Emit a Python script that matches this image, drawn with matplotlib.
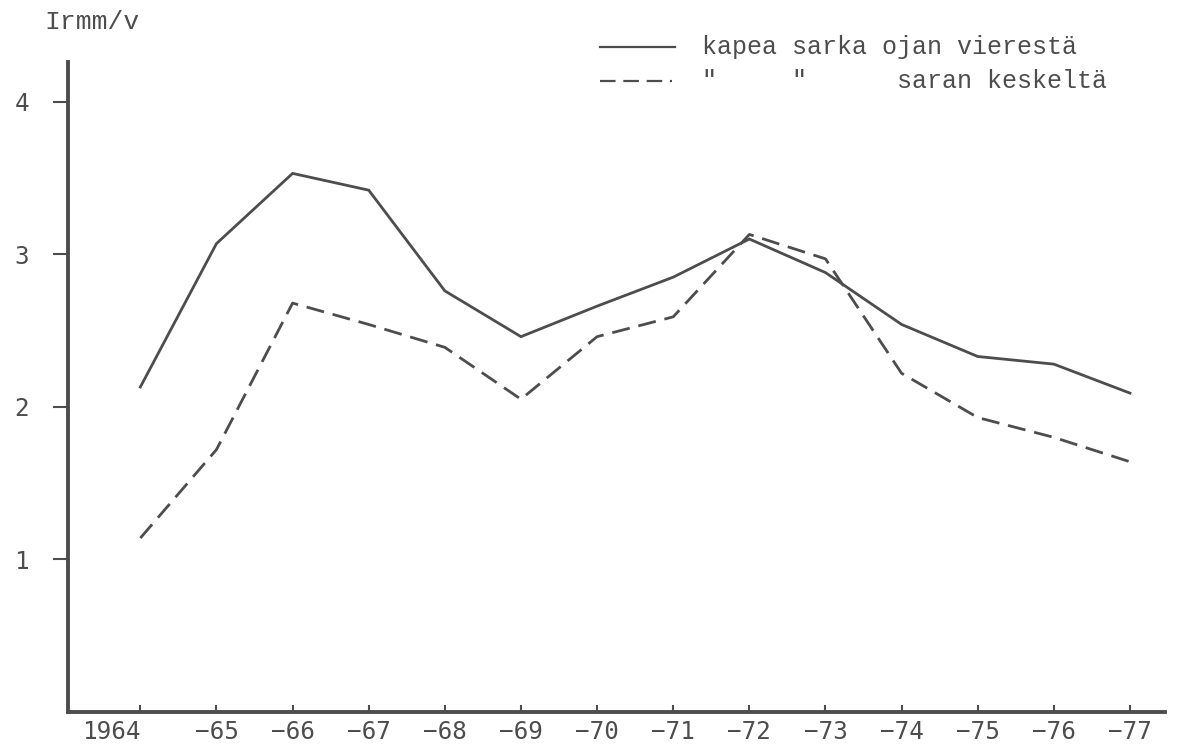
import matplotlib
matplotlib.use("Agg")
import matplotlib.pyplot as plt
from matplotlib.lines import Line2D

# vuodet ja arvot (Ir mm/v)
vuodet = [1964, 1965, 1966, 1967, 1968, 1969, 1970, 1971, 1972, 1973, 1974, 1975, 1976, 1977]
ojan_vieresta = [2.13, 3.07, 3.53, 3.42, 2.76, 2.46, 2.66, 2.85, 3.10, 2.88, 2.54, 2.33, 2.28, 2.09]
saran_keskelta = [1.14, 1.72, 2.68, 2.54, 2.39, 2.05, 2.46, 2.59, 3.13, 2.97, 2.22, 1.93, 1.80, 1.64]
x_labels = ["1964", "−65", "−66", "−67", "−68", "−69", "−70", "−71", "−72", "−73",
            "−74", "−75", "−76", "−77"]
y_ticks = [1, 2, 3, 4]

ink = "#4d4d4d"
mono = ["DejaVu Sans Mono"]
typewriter = ["Liberation Mono", "DejaVu Sans Mono"]

fig = plt.figure(figsize=(11.77, 7.48), dpi=100)
ax = fig.add_axes([0.0578, 0.0481, 0.932, 0.869])

ax.plot(vuodet, ojan_vieresta, color=ink, lw=2.0, solid_joinstyle="miter")
ax.plot(vuodet, saran_keskelta, color=ink, lw=2.0, linestyle=(0, (6.5, 3.2)))

ax.set_xlim(1963.05, 1977.46)
ax.set_ylim(0, 4.26)

for s in ["top", "right"]:
    ax.spines[s].set_visible(False)
for s in ["left", "bottom"]:
    ax.spines[s].set_linewidth(2.8)
    ax.spines[s].set_color(ink)

ax.set_xticks(vuodet)
ax.set_xticklabels(x_labels, family=mono, fontsize=17.5, color=ink)
ax.get_xticklabels()[0].set_ha("right")
ax.get_xticklabels()[0].set_x(vuodet[0] + 0.02)
ax.tick_params(axis="x", direction="in", length=5, width=1.5, color=ink, pad=6)

ax.set_yticks(y_ticks)
ax.set_yticklabels([str(v) for v in y_ticks], family=mono, fontsize=17.5, color=ink)
ax.tick_params(axis="y", direction="out", length=11, width=1.5, color=ink, pad=17)

# akselin nimi
fig.text(44 / 1177, 1 - 22 / 748, "Irmm/v", family=typewriter, fontsize=19,
         color=ink, va="center", ha="left")

# selite käsin kuten alkuperäisessä
fig.add_artist(Line2D([600 / 1177, 675 / 1177], [1 - 47 / 748, 1 - 47 / 748],
                      color=ink, lw=1.6))
fig.add_artist(Line2D([600 / 1177, 672 / 1177], [1 - 81 / 748, 1 - 81 / 748],
                      color=ink, lw=1.6, linestyle=(0, (7, 3.5))))
fig.text(702 / 1177, 1 - 47 / 748, "kapea sarka ojan vierestä", family=typewriter,
         fontsize=18, color=ink, va="center", ha="left")
fig.text(702 / 1177, 1 - 81 / 748, '"     "      saran keskeltä', family=typewriter,
         fontsize=18, color=ink, va="center", ha="left")

fig.savefig("out.png", dpi=100, facecolor="white")
